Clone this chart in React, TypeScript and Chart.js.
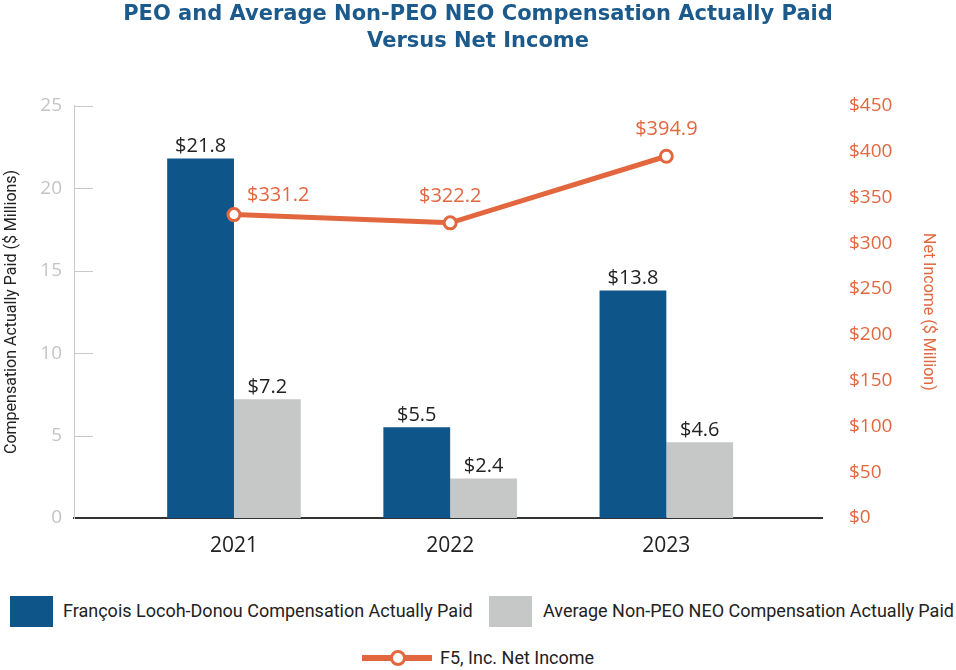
import React, { useEffect, useRef } from "react";
import { Chart, registerables } from "chart.js";

Chart.register(...registerables);

const years = ["2021", "2022", "2023"];
const peoCap = [21.8, 5.5, 13.8];
const neoCap = [7.2, 2.4, 4.6];
const netIncome = [331.2, 322.2, 394.9];
const leftTicks = [0, 5, 10, 15, 20, 25];

const titleLines = [
  "PEO and Average Non-PEO NEO Compensation Actually Paid",
  "Versus Net Income",
];
const peoLabel = "François Locoh-Donou Compensation Actually Paid";
const neoLabel = "Average Non-PEO NEO Compensation Actually Paid";
const netLabel = "F5, Inc. Net Income";

const BLUE = "#0e568a";
const GRAY = "#c6c7c7";
const ORANGE = "#e2673f";
const TITLE = "#1c5a8b";
const NUM_FONT = "'Open Sans', sans-serif";
const TEXT_FONT = "Roboto, 'Liberation Sans', sans-serif";

const innerTicks = {
  id: "innerTicks",
  afterDatasetsDraw(chart: any) {
    const { ctx, chartArea, scales } = chart;
    const y = scales.y;
    ctx.save();
    ctx.strokeStyle = "#c9c9c9";
    ctx.lineWidth = 1;
    leftTicks.forEach((v) => {
      if (v === 0) return;
      const py = Math.round(y.getPixelForValue(v)) + 0.5;
      ctx.beginPath();
      ctx.moveTo(chartArea.left, py);
      ctx.lineTo(chartArea.left + 19, py);
      ctx.stroke();
    });
    ctx.restore();
  },
};

const valueLabels = {
  id: "valueLabels",
  afterDatasetsDraw(chart: any) {
    const { ctx } = chart;
    ctx.save();
    chart.data.datasets.forEach((ds: any, di: number) => {
      const meta = chart.getDatasetMeta(di);
      meta.data.forEach((el: any, i: number) => {
        const v = ds.data[i].y;
        const txt = "$" + v.toFixed(1);
        if (ds.type === "line") {
          ctx.font = `20px ${NUM_FONT}`;
          ctx.fillStyle = ORANGE;
          ctx.textBaseline = "middle";
          if (i === 0) {
            ctx.textAlign = "left";
            ctx.fillText(txt, el.x + 13, el.y - 19);
          } else {
            ctx.textAlign = "center";
            ctx.fillText(txt, el.x, el.y - 27);
          }
        } else {
          ctx.font = `20px ${NUM_FONT}`;
          ctx.fillStyle = "#222";
          ctx.textAlign = "center";
          ctx.textBaseline = "bottom";
          ctx.fillText(txt, el.x, el.y - 2);
        }
      });
    });
    ctx.restore();
  },
};

function ChartCanvas() {
  const ref = useRef<HTMLCanvasElement | null>(null);
  useEffect(() => {
    if (!ref.current) return;
    const toPts = (arr: number[]) => arr.map((v, i) => ({ x: i + 1, y: v }));
    const chart = new Chart(ref.current, {
      type: "bar",
      data: {
        datasets: [
          {
            type: "line",
            label: netLabel,
            data: toPts(netIncome),
            yAxisID: "y1",
            borderColor: ORANGE,
            borderWidth: 5,
            pointRadius: 6,
            pointBorderWidth: 3,
            pointBackgroundColor: "#ffffff",
            pointBorderColor: ORANGE,
            tension: 0,
            order: 0,
          } as any,
          {
            type: "bar",
            label: peoLabel,
            data: toPts(peoCap),
            yAxisID: "y",
            backgroundColor: BLUE,
            categoryPercentage: 0.618,
            barPercentage: 1,
            order: 1,
          },
          {
            type: "bar",
            label: neoLabel,
            data: toPts(neoCap),
            yAxisID: "y",
            backgroundColor: GRAY,
            categoryPercentage: 0.618,
            barPercentage: 1,
            order: 1,
          },
        ],
      },
      options: {
        animation: false,
        responsive: false,
        devicePixelRatio: 1,
        layout: { padding: 0 },
        plugins: {
          legend: { display: false },
          tooltip: { enabled: false },
          title: {
            display: true,
            text: titleLines,
            color: TITLE,
            font: { family: "'DejaVu Sans', sans-serif", size: 21, weight: "bold", lineHeight: 1.28 },
            padding: { top: 1, bottom: 51 },
          },
        },
        scales: {
          x: {
            type: "linear",
            min: 0.26,
            max: 3.72,
            offset: false,
            grid: { display: false, drawTicks: false, offset: false },
            border: { display: true, color: "#333333", width: 2 },
            ticks: {
              stepSize: 1,
              includeBounds: false,
              autoSkip: false,
              maxRotation: 0,
              padding: 15,
              color: "#222222",
              font: { family: NUM_FONT, size: 21 },
              callback: (v: any) => (Number.isInteger(v) && years[v - 1]) ? years[v - 1] : "",
            },
            afterFit: (s: any) => { s.height = 62; },
          },
          y: {
            position: "left",
            min: 0,
            max: 25,
            grid: { display: false, drawTicks: false },
            border: { display: true, color: "#c9c9c9", width: 1 },
            ticks: {
              stepSize: 5,
              padding: 12,
              color: "#c4c4c4",
              font: { family: NUM_FONT, size: 19 },
            },
            title: {
              display: true,
              text: "Compensation Actually Paid ($ Millions)",
              color: "#222222",
              font: { family: TEXT_FONT, size: 16, lineHeight: 1.2 },
              padding: { top: 2, bottom: 0 },
            },
            afterFit: (s: any) => { s.width = 74; },
          },
          y1: {
            position: "right",
            min: 0,
            max: 450,
            grid: { display: false, drawTicks: false },
            border: { display: false },
            ticks: {
              stepSize: 50,
              padding: 27,
              color: ORANGE,
              font: { family: NUM_FONT, size: 19 },
              callback: (v: any) => "$" + v,
            },
            title: {
              display: true,
              text: "Net Income ($ Million)",
              color: ORANGE,
              font: { family: TEXT_FONT, size: 16, lineHeight: 1.2 },
              padding: { top: 18, bottom: 0 },
            },
            afterFit: (s: any) => { s.width = 134; },
          },
        },
      },
      plugins: [innerTicks, valueLabels],
    });
    return () => chart.destroy();
  }, []);
  return <canvas ref={ref} width={956} height={580} style={{ display: "block", width: 956, height: 580 }} />;
}

export default function App() {
  const legendText: React.CSSProperties = {
    position: "absolute",
    fontFamily: TEXT_FONT,
    fontSize: 18,
    color: "#222222",
    whiteSpace: "nowrap",
    lineHeight: "20px",
  };
  return (
    <div style={{ position: "absolute", left: 0, top: 0, width: 956, height: 670, background: "#fff" }}>
      <ChartCanvas />
      <div style={{ position: "absolute", left: 10, top: 596, width: 43, height: 31, background: BLUE }} />
      <div style={{ ...legendText, left: 63, top: 601 }}>{peoLabel}</div>
      <div style={{ position: "absolute", left: 489, top: 596, width: 43, height: 31, background: GRAY }} />
      <div style={{ ...legendText, left: 543, top: 601 }}>{neoLabel}</div>
      <div style={{ position: "absolute", left: 362, top: 655, width: 70, height: 6, background: ORANGE }} />
      <div style={{ position: "absolute", left: 390, top: 650, width: 10, height: 10, borderRadius: "50%", background: "#fff", border: `3px solid ${ORANGE}` }} />
      <div style={{ ...legendText, left: 440, top: 648 }}>{netLabel}</div>
    </div>
  );
}
